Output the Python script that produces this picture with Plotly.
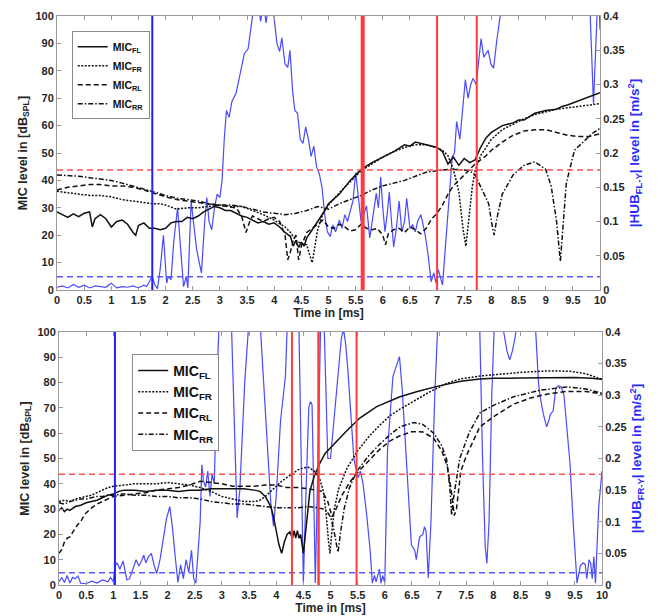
import plotly.graph_objects as go

# ---------------- data: top panel (HUB FL-Y) ----------------
top_fl = [(0,28.5),(0.1,27.5),(0.2,26.5),(0.3,27.8),(0.4,26.8),(0.5,28),(0.6,28.5),(0.65,23),(0.7,26),(0.8,27.5),
          (0.9,26),(1.0,23),(1.1,25),(1.2,25.5),(1.3,24),(1.4,21),(1.45,20),(1.5,23.5),(1.6,24.5),(1.7,22.5),
          (1.8,22.5),(1.9,22),(2.0,22.5),(2.1,24.5),(2.2,25),(2.3,25),(2.4,26.5),(2.5,26),(2.6,27),(2.7,28.5),
          (2.8,29.5),(2.9,30.5),(3.0,30),(3.1,29),(3.2,29),(3.3,28),(3.4,27),(3.5,26.5),(3.6,25.5),(3.7,24.5),
          (3.8,25),(3.9,24),(4.0,24.5),(4.1,23),(4.2,21),(4.3,19.5),(4.35,16),(4.4,18),(4.45,15.5),(4.5,17.5),
          (4.55,16),(4.6,19),(4.7,22),(4.8,25),(4.9,28),(5.0,31.5),(5.2,35),(5.4,40),(5.6,44),(5.8,46.5),
          (6.0,48.5),(6.2,50.5),(6.4,53),(6.5,52.5),(6.6,54),(6.7,53.5),(6.8,53),(6.9,52.5),(7.0,52),(7.1,50.5),
          (7.2,46),(7.3,48.5),(7.4,45.5),(7.5,48),(7.6,46.5),(7.7,47.5),(7.8,52),(7.9,55.5),(8.0,57.5),(8.2,60),
          (8.4,61),(8.5,62),(8.6,62),(8.8,64.5),(9.0,65.5),(9.2,66),(9.3,67),(9.4,67.5),(9.6,69),(9.8,70.5),(10,72)]
top_fr = [(0,36),(0.2,35.5),(0.4,35),(0.6,34.5),(0.8,34.5),(1.0,34),(1.2,33),(1.4,32.5),(1.6,32),(1.75,31.5),
          (1.9,31.5),(2.0,31),(2.2,29.5),(2.4,30),(2.6,30),(2.8,30.5),(3.0,31),(3.2,30.5),(3.4,30.5),(3.6,29),
          (3.8,27.5),(4.0,25.5),(4.2,23),(4.3,21),(4.4,18),(4.5,17),(4.6,16.5),(4.65,13),(4.7,10),(4.75,16),
          (4.8,22),(4.9,28),(5.0,31),(5.2,35.5),(5.4,39.5),(5.6,43.5),(5.8,46),(6.0,48.5),(6.2,50.5),(6.4,52),
          (6.6,53),(6.8,53),(7.0,52),(7.1,51),(7.2,49),(7.3,44),(7.4,36),(7.48,22),(7.53,16),(7.58,25),
          (7.65,38),(7.7,43.5),(7.8,49),(8.0,55),(8.2,58.5),(8.4,60.5),(8.6,62.5),(8.8,64),(9.0,65),(9.2,66),
          (9.4,66.5),(9.6,67),(9.8,67.5),(10,68)]
top_rl = [(0,36.5),(0.2,37.5),(0.4,38),(0.6,38.5),(0.8,38.5),(1.0,38),(1.2,38),(1.4,37.5),(1.6,36.5),(1.75,35.5),
          (2.0,34),(2.2,33),(2.4,32.5),(2.6,32),(2.8,31.5),(3.0,31),(3.2,30.5),(3.3,30),(3.4,27),(3.48,21),
          (3.55,25),(3.6,27),(3.7,26),(3.8,25),(3.9,26),(4.0,26.5),(4.1,25),(4.2,20),(4.25,11),(4.3,14),
          (4.35,18),(4.4,20),(4.45,11),(4.5,16),(4.6,21),(4.7,22.5),(4.8,24),(4.9,25.5),(5.0,23),(5.1,22.5),
          (5.2,24),(5.3,23),(5.4,21.5),(5.5,22),(5.6,24),(5.7,22.5),(5.8,22),(5.9,22.5),(6.0,20),(6.05,16.5),
          (6.1,20.5),(6.2,22),(6.3,22.5),(6.4,21),(6.5,23),(6.6,22),(6.7,20.5),(6.8,22.5),(6.9,26),(7.0,28),
          (7.1,31),(7.2,35),(7.3,38),(7.4,40),(7.5,42),(7.6,44),(7.7,46),(7.8,47.5),(7.9,49),(8.0,51),
          (8.2,54),(8.4,56.5),(8.6,58),(8.8,58.5),(9.0,58.5),(9.2,57.5),(9.4,56.5),(9.6,56),(9.8,56),(10,57)]
top_rr = [(0,42),(0.2,41.8),(0.4,41.5),(0.6,41),(0.8,40.5),(1.0,40),(1.2,39),(1.4,38),(1.6,37),(1.75,36),
          (2.0,34.5),(2.2,33.5),(2.4,33),(2.6,32.5),(2.8,31.5),(3.0,31),(3.2,31),(3.4,30.5),(3.6,29.5),(3.8,28.5),
          (4.0,28),(4.2,27.5),(4.4,28),(4.6,29),(4.8,30.5),(5.0,29.5),(5.2,31.5),(5.4,33),(5.6,34.5),(5.8,36.5),
          (6.0,38),(6.2,39),(6.4,40),(6.6,41.5),(6.8,43),(7.0,43.5),(7.2,44),(7.4,44),(7.6,43.5),(7.7,42),
          (7.8,38),(7.95,31.5),(8.0,25),(8.05,20),(8.1,26),(8.2,35),(8.4,42),(8.6,45.5),(8.8,46.8),(9.0,44),
          (9.1,38),(9.2,25),(9.27,10.5),(9.32,25),(9.38,39),(9.53,51),(9.7,54),(9.85,57),(10,59)]
top_hub = [(0,0.004),(0.1,0.006),(0.2,0.003),(0.3,0.008),(0.4,0.004),(0.5,0.007),(0.6,0.003),(0.7,0.006),
           (0.8,0.005),(0.9,0.004),(1.0,0.01),(1.05,0.006),(1.1,0.003),(1.2,0.005),(1.3,0.004),(1.4,0.006),
           (1.5,0.003),(1.6,0.007),(1.65,0.005),(1.7,0.012),(1.75,0.02),(1.8,0.008),(1.85,0.002),(1.9,0.03),
           (1.96,0.08),(2.02,0.01),(2.05,0.02),(2.1,0.015),(2.15,0.07),(2.22,0.12),(2.28,0.06),(2.33,0.005),
           (2.38,0.02),(2.41,0.003),(2.47,0.13),(2.52,0.09),(2.57,0.06),(2.62,0.04),(2.66,0.025),(2.72,0.1),
           (2.76,0.135),(2.8,0.1),(2.85,0.088),(2.9,0.12),(2.95,0.14),(3.0,0.135),(3.04,0.16),(3.08,0.22),
           (3.12,0.262),(3.17,0.252),(3.22,0.275),(3.3,0.288),(3.38,0.32),(3.45,0.345),(3.52,0.352),(3.6,0.4),
           (3.65,0.43),(3.72,0.41),(3.75,0.392),(3.8,0.42),(3.85,0.39),(3.9,0.42),(3.98,0.41),(4.05,0.36),
           (4.1,0.348),(4.14,0.368),(4.2,0.33),(4.25,0.325),(4.29,0.35),(4.34,0.29),(4.38,0.262),(4.43,0.258),
           (4.48,0.22),(4.53,0.214),(4.58,0.238),(4.63,0.22),(4.68,0.195),(4.73,0.21),(4.78,0.18),(4.83,0.17),
           (4.88,0.15),(4.93,0.11),(4.98,0.085),(5.03,0.078),(5.08,0.095),(5.13,0.085),(5.2,0.102),(5.25,0.09),
           (5.3,0.11),(5.35,0.1),(5.4,0.117),(5.45,0.13),(5.5,0.171),(5.55,0.13),(5.6,0.1),(5.65,0.11),
           (5.7,0.123),(5.76,0.076),(5.82,0.11),(5.88,0.141),(5.92,0.12),(5.96,0.165),(6.0,0.12),(6.04,0.085),
           (6.08,0.11),(6.12,0.143),(6.16,0.1),(6.2,0.063),(6.25,0.09),(6.3,0.13),(6.35,0.085),(6.4,0.1),
           (6.44,0.134),(6.5,0.09),(6.55,0.095),(6.6,0.085),(6.64,0.1),(6.7,0.11),(6.73,0.1),(6.78,0.08),
           (6.83,0.054),(6.89,0.012),(6.94,0.025),(6.98,0.01),(7.02,0.03),(7.06,0.02),(7.1,0.007),(7.15,0.06),
           (7.22,0.136),(7.28,0.195),(7.32,0.2),(7.36,0.246),(7.42,0.22),(7.47,0.26),(7.52,0.307),(7.57,0.28),
           (7.62,0.3),(7.66,0.309),(7.72,0.3),(7.76,0.33),(7.81,0.367),(7.86,0.34),(7.9,0.345),(7.94,0.35),
           (7.99,0.33),(8.04,0.324),(8.1,0.365),(8.17,0.4),(8.25,0.45),(8.6,0.5),(9.0,0.55),(9.5,0.5),
           (9.75,0.45),(9.82,0.4),(9.86,0.3),(9.88,0.272),(9.91,0.33),(9.94,0.42),(9.97,0.45),(10,0.38)]

# ---------------- data: bottom panel (HUB FR-Y) ----------------
bot_fl = [(0,29.5),(0.05,30.5),(0.1,29),(0.15,30),(0.2,29.5),(0.3,31),(0.4,31.5),(0.5,32.5),(0.6,33),(0.7,33.5),
          (0.8,34.5),(0.9,35.5),(1.0,36),(1.1,37),(1.2,37.5),(1.4,37.5),(1.6,37),(1.8,37.5),(2.0,37.5),(2.2,37),
          (2.4,37.5),(2.6,37.5),(2.8,38),(3.0,38),(3.2,38),(3.4,38),(3.6,37.5),(3.7,37),(3.8,35),(3.9,31),
          (3.95,27),(4.0,22),(4.05,16),(4.1,12.5),(4.15,17),(4.2,20),(4.25,21),(4.3,18.5),(4.33,21.5),(4.36,18.5),
          (4.39,21.5),(4.42,18.5),(4.45,20),(4.5,12.5),(4.55,22),(4.62,37),(4.7,43),(4.8,48),(4.9,52),(5.05,55.5),
          (5.3,61),(5.54,66),(5.85,70.5),(6.28,74.4),(6.6,76.5),(7.0,78.7),(7.4,80.5),(7.75,81.4),(8.0,81.7),
          (8.5,81.8),(9.0,81.9),(9.5,82),(9.8,81.7),(10,81.3)]
bot_fr = [(0,33),(0.1,33.5),(0.2,33),(0.3,34),(0.4,34.5),(0.5,35),(0.6,35.5),(0.7,36.5),(0.8,37.5),(0.9,38.5),
          (1.0,39),(1.2,39.5),(1.4,40),(1.6,40),(1.8,40),(2.0,40.5),(2.2,40),(2.4,39.5),(2.6,38.5),(2.8,37),
          (3.0,35),(3.2,34),(3.4,33),(3.6,33),(3.7,33.5),(3.8,35),(3.9,37),(4.0,39),(4.1,41),(4.2,42.5),
          (4.3,44),(4.4,45.5),(4.5,46.3),(4.6,46.5),(4.7,45),(4.8,42),(4.87,37),(4.92,28),(4.96,18),(4.99,12.5),
          (5.02,20),(5.07,30),(5.15,38),(5.3,46),(5.5,53),(5.7,58.5),(5.9,63),(6.1,67),(6.28,69.5),(6.53,72.5),
          (6.8,76),(7.14,79.7),(7.4,81.5),(7.75,82.6),(8.2,83.5),(8.6,84.2),(9.0,84.6),(9.4,84.5),(9.7,83.5),
          (10,81.3)]
bot_rl = [(0,12.5),(0.05,14),(0.1,17),(0.15,18.5),(0.2,19),(0.25,21),(0.3,22.5),(0.35,24),(0.4,25),(0.45,27),
          (0.5,28.5),(0.6,30.5),(0.7,32),(0.8,33),(0.9,34),(1.0,35),(1.2,35.5),(1.4,36),(1.6,36.5),(1.8,37.5),
          (2.0,38),(2.2,38.5),(2.4,39.5),(2.6,41),(2.8,40.5),(3.0,40),(3.2,39),(3.4,39),(3.6,39),(3.8,39.5),
          (4.0,39.5),(4.2,38.5),(4.4,38.5),(4.6,38),(4.85,37),(4.95,33),(5.0,29),(5.03,27),(5.1,30),(5.2,35),
          (5.35,40.5),(5.5,44.5),(5.7,49),(5.9,53.5),(6.1,57),(6.28,59),(6.5,60.6),(6.7,60.5),(6.9,58),
          (7.05,53),(7.15,47),(7.22,38),(7.28,27.5),(7.32,30),(7.4,45),(7.5,51),(7.75,62.5),(8.0,66.5),
          (8.37,71.5),(8.7,74),(9.0,75.5),(9.35,76.5),(9.7,76.5),(10,75.5)]
bot_rr = [(0,32.5),(0.1,32),(0.2,33),(0.3,33.5),(0.4,34),(0.5,34),(0.6,34.5),(0.7,35),(0.8,35),(0.9,35.5),
          (1.0,35.5),(1.2,36),(1.4,35.5),(1.6,35.5),(1.8,35),(2.0,35),(2.2,34.5),(2.4,34.5),(2.6,34),(2.8,33),
          (3.0,32.5),(3.2,32),(3.4,32),(3.6,31.5),(3.8,31),(4.0,30.5),(4.2,30.5),(4.4,30.5),(4.6,31),(4.8,30.5),
          (4.9,30),(5.0,27),(5.06,22),(5.11,16),(5.14,13),(5.18,20),(5.25,30),(5.35,38.5),(5.48,44.8),(5.7,51),
          (5.9,55.5),(6.1,59.5),(6.28,62.5),(6.53,64.2),(6.7,63.5),(6.9,60),(7.05,55),(7.14,49.5),(7.2,38),
          (7.23,27.7),(7.27,35),(7.38,50),(7.55,60),(7.75,68),(8.0,71),(8.37,74.4),(8.86,77),(9.35,78.3),
          (9.7,77.5),(10,75.8)]
bot_hub = [(0,0.005),(0.05,0.012),(0.1,0.004),(0.15,0.015),(0.2,0.003),(0.25,0.012),(0.3,0.01),(0.35,0.014),
           (0.4,0.003),(0.5,0.002),(0.6,0.006),(0.7,0.003),(0.8,0.008),(0.9,0.005),(0.95,0.012),(1.0,0.005),
           (1.03,0.03),(1.07,0.035),(1.12,0.025),(1.18,0.038),(1.25,0.008),(1.3,0.01),(1.36,0.025),(1.42,0.04),
           (1.47,0.03),(1.52,0.038),(1.56,0.047),(1.6,0.035),(1.65,0.045),(1.7,0.05),(1.75,0.032),(1.8,0.018),
           (1.86,0.04),(1.92,0.07),(1.98,0.105),(2.04,0.124),(2.09,0.09),(2.14,0.045),(2.19,0.004),(2.24,0.032),
           (2.29,0.01),(2.34,0.04),(2.39,0.02),(2.44,0.055),(2.48,0.01),(2.52,0.003),(2.56,0.055),(2.6,0.1),
           (2.63,0.19),(2.66,0.165),(2.7,0.155),(2.74,0.18),(2.78,0.14),(2.82,0.175),(2.86,0.16),(2.9,0.3),
           (2.95,0.42),(3.1,0.5),(3.18,0.4),(3.24,0.2),(3.28,0.106),(3.33,0.15),(3.42,0.32),(3.5,0.42),
           (3.6,0.5),(3.7,0.42),(3.78,0.3),(3.85,0.2),(3.9,0.13),(3.95,0.093),(4.0,0.14),(4.08,0.26),
           (4.13,0.3),(4.17,0.33),(4.22,0.45),(4.35,0.5),(4.42,0.4),(4.46,0.2),(4.5,0.003),(4.55,0.15),
           (4.6,0.28),(4.63,0.29),(4.66,0.285),(4.69,0.15),(4.72,0.003),(4.77,0.2),(4.82,0.42),(4.88,0.42),
           (4.95,0.2),(5.0,0.2),(5.1,0.3),(5.2,0.39),(5.24,0.405),(5.28,0.38),(5.32,0.34),(5.38,0.27),
           (5.43,0.2),(5.48,0.179),(5.51,0.17),(5.55,0.18),(5.6,0.16),(5.67,0.108),(5.73,0.055),(5.77,0.003),
           (5.81,0.015),(5.84,0.005),(5.88,0.02),(5.9,0.025),(5.93,0.003),(5.96,0.015),(6.0,0.003),(6.05,0.213),
           (6.15,0.33),(6.22,0.35),(6.27,0.361),(6.32,0.31),(6.37,0.245),(6.43,0.15),(6.49,0.063),(6.55,0.055),
           (6.58,0.04),(6.64,0.076),(6.7,0.08),(6.73,0.092),(6.76,0.085),(6.8,0.011),(6.85,0.1),(6.92,0.3),
           (6.98,0.42),(7.3,0.55),(7.7,0.45),(7.75,0.4),(7.8,0.2),(7.85,0.06),(7.88,0.034),(7.92,0.1),
           (7.97,0.3),(8.02,0.42),(8.15,0.42),(8.2,0.392),(8.25,0.37),(8.3,0.356),(8.35,0.37),(8.4,0.392),
           (8.45,0.42),(8.7,0.45),(8.78,0.4),(8.83,0.32),(8.86,0.298),(8.92,0.27),(8.98,0.25),(9.02,0.26),
           (9.05,0.27),(9.1,0.275),(9.15,0.311),(9.2,0.315),(9.25,0.313),(9.3,0.3),(9.35,0.25),(9.41,0.193),
           (9.47,0.098),(9.54,0.003),(9.6,0.03),(9.65,0.035),(9.69,0.033),(9.72,0.01),(9.76,0.04),(9.79,0.035),
           (9.82,0.01),(9.85,0.045),(9.88,0.003),(9.94,0.124),(10,0.18)]

# event markers / thresholds
top_blue_marks = [1.755]
top_red_marks = [5.63, 7.0, 7.73]
top_red_widths = [4, 2, 2]
bot_blue_marks = [1.03]
bot_red_marks = [4.29, 4.78, 5.48]
bot_red_widths = [2, 2.5, 2]
mic_threshold = 43.8      # dB_SPL
hub_threshold = 0.0195    # m/s^2

series_names = ["MIC<sub>FL</sub>", "MIC<sub>FR</sub>", "MIC<sub>RL</sub>", "MIC<sub>RR</sub>"]
series_dash = ["solid", "2px,1.5px", "5px,3px", "5px,2px,1.5px,2px"]

FONT = "Liberation Sans, Arial, sans-serif"
BLUE = "#4a4aff"
RED = "#ff3a3a"
GREY = "#9a9a9a"

def xy(pairs):
    return [p[0] for p in pairs], [p[1] for p in pairs]

fig = go.Figure()

# blue HUB traces on the base (right) axes, drawn first
for pairs, xa, ya in [(top_hub, "x", "y"), (bot_hub, "x2", "y3")]:
    x, y = xy(pairs)
    fig.add_trace(go.Scatter(x=x, y=y, mode="lines", xaxis=xa, yaxis=ya,
                             line=dict(color=BLUE, width=1.2), showlegend=False, hoverinfo="skip"))

# black MIC traces on the overlaying (left) axes
for series, xa, ya, lg in [([top_fl, top_fr, top_rl, top_rr], "x", "y2", "legend"),
                           ([bot_fl, bot_fr, bot_rl, bot_rr], "x2", "y4", "legend2")]:
    for pairs, name, dash in zip(series, series_names, series_dash):
        x, y = xy(pairs)
        fig.add_trace(go.Scatter(x=x, y=y, mode="lines", xaxis=xa, yaxis=ya, name="<b>" + name + "</b>",
                                 line=dict(color="#111111", width=1.5, dash=dash), legend=lg))

shapes = []
for xa, ymic, yhub, blues, reds, widths in [("x", "y2", "y", top_blue_marks, top_red_marks, top_red_widths),
                                            ("x2", "y4", "y3", bot_blue_marks, bot_red_marks, bot_red_widths)]:
    shapes.append(dict(type="line", xref=xa + " domain", x0=0, x1=1, yref=ymic, y0=mic_threshold, y1=mic_threshold,
                       line=dict(color="#ff5050", width=1.5, dash="6px,4px"), layer="above"))
    shapes.append(dict(type="line", xref=xa + " domain", x0=0, x1=1, yref=yhub, y0=hub_threshold, y1=hub_threshold,
                       line=dict(color="#5a5aff", width=1.5, dash="6px,4px"), layer="above"))
    for xv in blues:
        shapes.append(dict(type="line", xref=xa, x0=xv, x1=xv, yref=yhub + " domain", y0=0, y1=1,
                           line=dict(color="#1f1fff", width=2), layer="above"))
    for xv, w in zip(reds, widths):
        shapes.append(dict(type="line", xref=xa, x0=xv, x1=xv, yref=yhub + " domain", y0=0, y1=1,
                           line=dict(color=RED, width=w), layer="above"))

tickfont = dict(family=FONT, size=11, color="#262626", weight="bold")
def xaxis(anchor, domain):
    return dict(anchor=anchor, domain=domain, range=[0, 10], dtick=0.5, ticks="inside", ticklen=4,
                tickcolor=GREY, showline=True, linecolor=GREY, mirror="ticks", showgrid=False, zeroline=False,
                tickfont=tickfont, automargin=False,
                title=dict(text="<b>Time in [ms]</b>", font=dict(family=FONT, size=12, color="#262626"), standoff=3))
def hubaxis(anchor, domain, label):
    return dict(anchor=anchor, domain=domain, side="right", range=[0, 0.4], dtick=0.05, ticks="inside",
                ticklen=4, tickcolor=GREY, showline=True, linecolor=GREY, showgrid=False, zeroline=False,
                tickfont=tickfont, automargin=False,
                title=dict(text=label, font=dict(family=FONT, size=13.5, color="#2a2aff"), standoff=5))
def micaxis(anchor, overlay):
    return dict(anchor=anchor, overlaying=overlay, side="left", range=[0, 100], dtick=10, ticks="inside",
                ticklen=4, tickcolor=GREY, showline=True, linecolor=GREY, showgrid=False, zeroline=False,
                tickfont=tickfont, automargin=False,
                title=dict(text="<b>MIC level in [dB<sub>SPL</sub>]</b>",
                           font=dict(family=FONT, size=12.5, color="#262626"), standoff=5))

top_dom = [1 - 274 / 569, 1]
bot_dom = [0, 253 / 569]

fig.update_layout(
    width=660, height=616, autosize=False,
    margin=dict(l=57, r=58, t=16, b=31),
    paper_bgcolor="white", plot_bgcolor="white",
    xaxis=xaxis("y", [0, 543 / 545]),
    yaxis=hubaxis("x", top_dom, "<b>|HUB<sub>FL-Y</sub>| level in [m/s<sup>2</sup>]</b>"),
    yaxis2=micaxis("x", "y"),
    xaxis2=xaxis("y3", [2 / 545, 1]),
    yaxis3=hubaxis("x2", bot_dom, "<b>|HUB<sub>FR-Y</sub>| level in [m/s<sup>2</sup>]</b>"),
    yaxis4=micaxis("x2", "y3"),
    shapes=shapes,
    legend=dict(x=0.027, y=0.973, xanchor="left", yanchor="top", bgcolor="white",
                bordercolor="#8a8a8a", borderwidth=1, font=dict(family=FONT, size=10.5, color="#111"),
                tracegroupgap=0, itemwidth=30),
    legend2=dict(x=0.138, y=0.406, xanchor="left", yanchor="top", bgcolor="white",
                 bordercolor="#8a8a8a", borderwidth=1, font=dict(family=FONT, size=14, color="#111"),
                 tracegroupgap=0, itemwidth=30),
    showlegend=True,
)

fig.write_html("out.html", config={"displayModeBar": False},
               post_script="document.body.style.margin='0px';document.body.style.overflow='hidden';")
